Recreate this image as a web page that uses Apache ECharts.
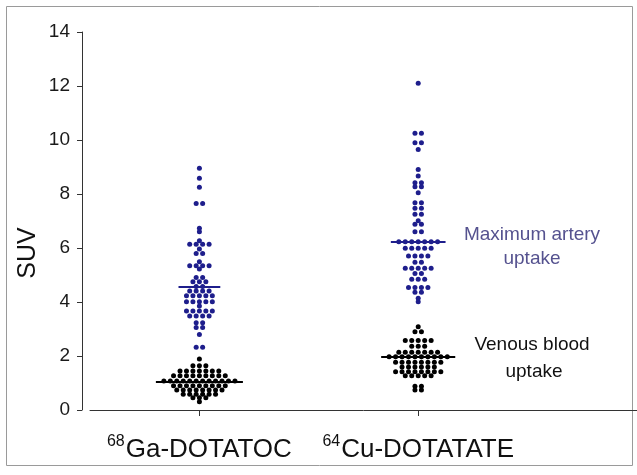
<!DOCTYPE html>
<html>
<head>
<meta charset="utf-8">
<script src="https://cdn.jsdelivr.net/npm/echarts@6/dist/echarts.min.js"></script>
<style>
html,body{margin:0;padding:0;background:#fff;}
#chart{width:637px;height:475px;}
</style>
</head>
<body>
<div id="chart"></div>
<script>
// ---------------- data ----------------
var groups = ['Ga-DOTATOC', 'Cu-DOTATATE'];
var groupSup = ['68', '64'];
var yTicks = [0, 2, 4, 6, 8, 10, 12, 14];

// 68Ga-DOTATOC maximum artery uptake (SUV)
var gaArtery = [8.95, 8.58, 8.25, 7.65, 7.65, 6.73, 6.6, 6.27,
  6.14, 6.14, 6.14, 6.14, 5.96, 5.8, 5.8, 5.49, 5.34, 5.34, 5.34, 5.34, 5.22,
  4.91, 4.91, 4.75, 4.75, 4.75, 4.57, 4.57, 4.41, 4.41, 4.41, 4.41,
  4.23, 4.23, 4.23, 4.23, 4.23, 4.01, 4.01, 4.01, 4.01, 4.01, 3.85,
  3.67, 3.67, 3.67, 3.67, 3.67, 3.48, 3.48, 3.48, 3.48,
  3.23, 3.23, 3.06, 3.06, 2.8, 2.32, 2.32];
// 68Ga-DOTATOC venous blood uptake
var gaVenous = [1.89, 1.64, 1.64, 1.64,
  1.44, 1.44, 1.44, 1.44, 1.44, 1.44, 1.44,
  1.27, 1.27, 1.27, 1.27, 1.27, 1.27, 1.27, 1.27, 1.27,
  1.07, 1.07, 1.07, 1.07, 1.07, 1.07, 1.07, 1.07, 1.07, 1.07, 1.07, 1.07,
  0.9, 0.9, 0.9, 0.9, 0.9, 0.9, 0.9, 0.9, 0.9,
  0.74, 0.74, 0.74, 0.74, 0.74, 0.74, 0.74, 0.74,
  0.58, 0.58, 0.58, 0.58, 0.58, 0.58, 0.45, 0.45, 0.45, 0.31];
// 64Cu-DOTATATE maximum artery uptake
var cuArtery = [12.1, 10.25, 10.25, 9.9, 9.9, 9.65, 8.91, 8.67,
  8.42, 8.42, 8.27, 8.27, 8.05, 7.68, 7.68, 7.47, 7.47, 7.25, 7.25, 7.01,
  6.88, 6.88, 6.6, 6.6,
  6.23, 6.23, 6.23, 6.23, 6.23, 6.23, 6.23,
  5.99, 5.99, 5.99, 5.99, 5.99, 5.7, 5.7, 5.7, 5.7, 5.47, 5.47,
  5.25, 5.25, 5.25, 5.25, 5.25, 5.06, 5.06, 4.84, 4.84, 4.84,
  4.54, 4.54, 4.54, 4.54, 4.36, 4.36, 4.14, 4.01];
// 64Cu-DOTATATE venous blood uptake
var cuVenous = [3.08, 2.9, 2.9, 2.57, 2.57, 2.57, 2.57, 2.57, 2.36, 2.36, 2.36,
  2.14, 2.14, 2.14, 2.14, 2.14, 2.14, 2.14,
  1.97, 1.97, 1.97, 1.97, 1.97, 1.97, 1.97, 1.97, 1.97, 1.97,
  1.77, 1.77, 1.77, 1.77, 1.77, 1.77, 1.77, 1.77,
  1.59, 1.59, 1.59, 1.59, 1.59, 1.59,
  1.42, 1.42, 1.42, 1.42, 1.42, 1.42, 1.42, 1.42,
  1.27, 1.27, 1.27, 1.27, 1.27, 0.88, 0.88, 0.74, 0.74];

// medians (horizontal bars)
var arteryMedians = [4.55, 6.22];
var venousMedians = [1.05, 1.96];

// ---------------- layout helpers ----------------
var GRID = {left: 90, top: 32, width: 550, height: 378};
var XMIN = 0.5, XMAX = 3.0;
var unitPerPx = (XMAX - XMIN) / GRID.width;
var DOT_GAP_PX = 6.5;

// dot-plot layout: equal values are spread side by side around the group centre
function swarm(values, center) {
  var counts = {}, seen = {};
  values.forEach(function (v) { counts[v] = (counts[v] || 0) + 1; });
  var maxRow = 0;
  Object.keys(counts).forEach(function (k) { maxRow = Math.max(maxRow, counts[k]); });
  var pts = values.map(function (v) {
    var i = seen[v] || 0; seen[v] = i + 1;
    var off = (i - (counts[v] - 1) / 2) * DOT_GAP_PX * unitPerPx;
    return [center + off, v];
  });
  return {pts: pts, halfWidth: ((maxRow - 1) / 2 * DOT_GAP_PX + 8) * unitPerPx};
}

var ga = {a: swarm(gaArtery, 1), v: swarm(gaVenous, 1)};
var cu = {a: swarm(cuArtery, 2), v: swarm(cuVenous, 2)};

function medianLine(center, half, val) {
  return [{coord: [center - half, val]}, {coord: [center + half, val]}];
}

var BLUE = '#1e1e8c';
var BLACK = '#000000';
var FONT = 'Liberation Sans, Arial, sans-serif';

var chart = echarts.init(document.getElementById('chart'), null, {renderer: 'canvas'});
chart.setOption({
  animation: false,
  backgroundColor: '#fff',
  grid: {left: GRID.left, top: GRID.top, width: GRID.width, height: GRID.height, containLabel: false},
  xAxis: {
    type: 'value', min: XMIN, max: XMAX, offset: 7,
    splitLine: {show: false},
    axisLine: {show: true, lineStyle: {color: '#333', width: 1}},
    axisTick: {show: true, customValues: [1, 2], length: 6, lineStyle: {color: '#333'}},
    axisLabel: {
      show: true, customValues: [1, 2], margin: 17,
      formatter: function (v) {
        var i = Math.round(v) - 1;
        return '{sup|' + groupSup[i] + '}{b|' + groups[i] + '}';
      },
      rich: {
        sup: {fontSize: 16, fontFamily: FONT, color: '#111', verticalAlign: 'bottom', padding: [0, 1, 13, 0]},
        b: {fontSize: 26, fontFamily: FONT, color: '#111', verticalAlign: 'bottom'}
      }
    }
  },
  yAxis: {
    type: 'value', min: 0, max: 14, interval: 2, offset: 8,
    splitLine: {show: false},
    axisLine: {show: true, lineStyle: {color: '#333', width: 1}},
    axisTick: {show: true, length: 5, lineStyle: {color: '#333'}},
    axisLabel: {
      margin: 12, fontSize: 19, fontFamily: FONT, color: '#1a1a1a',
      formatter: function (v) { return yTicks.indexOf(v) >= 0 ? String(v) : ''; }
    }
  },
  series: [
    {
      type: 'scatter', name: 'artery', symbol: 'circle', symbolSize: 5, clip: false,
      itemStyle: {color: BLUE, opacity: 1},
      data: ga.a.pts.concat(cu.a.pts),
      markLine: {
        symbol: 'none', silent: true, label: {show: false},
        lineStyle: {color: BLUE, width: 2, type: 'solid', opacity: 1},
        data: [medianLine(1, ga.a.halfWidth, arteryMedians[0]), medianLine(2, cu.a.halfWidth, arteryMedians[1])]
      }
    },
    {
      type: 'scatter', name: 'venous', symbol: 'circle', symbolSize: 5, clip: false,
      itemStyle: {color: BLACK, opacity: 1},
      data: ga.v.pts.concat(cu.v.pts),
      markLine: {
        symbol: 'none', silent: true, label: {show: false},
        lineStyle: {color: BLACK, width: 2, type: 'solid', opacity: 1},
        data: [medianLine(1, ga.v.halfWidth, venousMedians[0]), medianLine(2, cu.v.halfWidth, venousMedians[1])]
      }
    }
  ],
  graphic: [
    {type: 'rect', shape: {x: 6.5, y: 6.5, width: 626, height: 459}, style: {fill: 'none', stroke: '#9a9a9a', lineWidth: 1}, silent: true, z: -1},
    {type: 'text', x: 28, y: 253, rotation: Math.PI / 2, style: {text: 'SUV', fontSize: 25, fontFamily: FONT, fill: '#111', align: 'center', verticalAlign: 'middle'}},
    {type: 'text', x: 532, y: 235, style: {text: 'Maximum artery', fontSize: 19, fontFamily: FONT, fill: '#55528f', align: 'center', verticalAlign: 'middle'}},
    {type: 'text', x: 532, y: 259, style: {text: 'uptake', fontSize: 19, fontFamily: FONT, fill: '#55528f', align: 'center', verticalAlign: 'middle'}},
    {type: 'text', x: 532, y: 345, style: {text: 'Venous blood', fontSize: 19, fontFamily: FONT, fill: '#111', align: 'center', verticalAlign: 'middle'}},
    {type: 'text', x: 534, y: 372, style: {text: 'uptake', fontSize: 19, fontFamily: FONT, fill: '#111', align: 'center', verticalAlign: 'middle'}}
  ]
});
</script>
</body>
</html>
